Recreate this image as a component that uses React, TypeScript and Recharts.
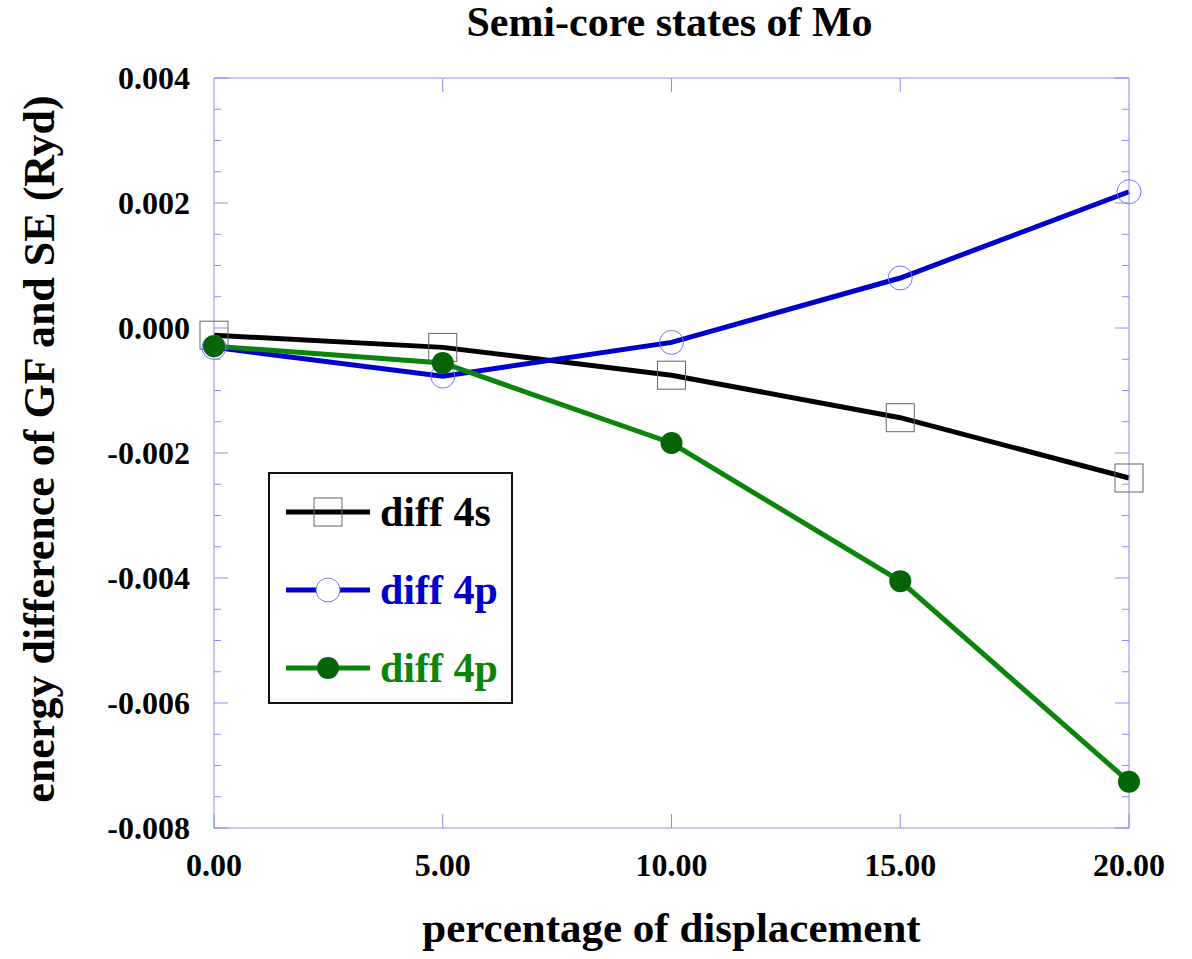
import React from 'react';
import { LineChart, Line, XAxis, YAxis, Legend } from 'recharts';

const displacement = [0, 5, 10, 15, 20];
const diff4s = [-0.000115, -0.00031, -0.000755, -0.001435, -0.0024];
const diff4pBlue = [-0.00031, -0.00077, -0.00023, 0.0008, 0.00218];
const diff4pGreen = [-0.00029, -0.00056, -0.00184, -0.00405, -0.00726];

const xTicks = [0, 5, 10, 15, 20];
const yTicks = [
  -0.008, -0.0075, -0.007, -0.0065, -0.006, -0.0055, -0.005, -0.0045, -0.004,
  -0.0035, -0.003, -0.0025, -0.002, -0.0015, -0.001, -0.0005, 0, 0.0005, 0.001,
  0.0015, 0.002, 0.0025, 0.003, 0.0035, 0.004,
];
const yMajor = [-0.008, -0.006, -0.004, -0.002, 0, 0.002, 0.004];

const data = displacement.map((x, i) => ({
  x,
  s4: diff4s[i],
  p4: diff4pBlue[i],
  p4g: diff4pGreen[i],
}));

const FONT = '"Liberation Serif", "Times New Roman", serif';
const AXIS = '#8c8cf5';

const isMajor = (v: number) => yMajor.some((m) => Math.abs(m - v) < 1e-9);

const LeftTick = (props: any) => {
  const { x, y, payload } = props;
  const major = isMajor(payload.value);
  return (
    <g>
      <line x1={x} x2={x + (major ? 14 : 7)} y1={y} y2={y} stroke={AXIS} strokeWidth={1} />
      {major && (
        <text x={x - 24} y={y + 11} textAnchor="end" fontFamily={FONT} fontWeight="bold" fontSize={32} fill="#000">
          {payload.value.toFixed(3)}
        </text>
      )}
    </g>
  );
};

const RightTick = (props: any) => {
  const { x, y, payload } = props;
  const major = isMajor(payload.value);
  return <line x1={x} x2={x - (major ? 14 : 7)} y1={y} y2={y} stroke={AXIS} strokeWidth={1} />;
};

const BottomTick = (props: any) => {
  const { x, y, payload } = props;
  return (
    <g>
      <line x1={x} x2={x} y1={y} y2={y - 14} stroke={AXIS} strokeWidth={1} />
      <text x={x} y={y + 48} textAnchor="middle" fontFamily={FONT} fontWeight="bold" fontSize={32} fill="#000">
        {payload.value.toFixed(2)}
      </text>
    </g>
  );
};

// ticks along the top frame only, no labels
const TopTick = (props: any) => {
  const { x, y, payload } = props;
  if (payload.value <= 0 || payload.value >= 20) return <g />;
  return <line x1={x} x2={x} y1={y} y2={y + 14} stroke={AXIS} strokeWidth={1} />;
};

const SquareDot = (props: any) => {
  const { cx, cy, index } = props;
  return <rect key={`sq-${index}`} x={cx - 14} y={cy - 14} width={28} height={28} fill="none" stroke="#666" strokeWidth={1} />;
};

const OpenCircle = (props: any) => {
  const { cx, cy, index } = props;
  return <circle key={`oc-${index}`} cx={cx} cy={cy} r={12} fill="none" stroke="#7474ff" strokeWidth={1} />;
};

const legendItems = [
  { label: 'diff 4s', color: '#000000', marker: 'square' },
  { label: 'diff 4p', color: '#0000cc', marker: 'open' },
  { label: 'diff 4p', color: '#0a850a', marker: 'filled' },
];

const LegendBox = () => (
  <div style={{ width: 241, height: 228, border: '2px solid #111', background: '#fff', position: 'relative' }}>
    {legendItems.map((it, i) => (
      <div key={i} style={{ position: 'absolute', left: 0, top: 38 + i * 78 - 30, height: 60, display: 'flex', alignItems: 'center' }}>
        <svg width={110} height={60} style={{ display: 'block' }}>
          <line x1={16} x2={100} y1={30} y2={30} stroke={it.color} strokeWidth={5} />
          {it.marker === 'square' && <rect x={44} y={16} width={28} height={28} fill="none" stroke="#666" strokeWidth={1} />}
          {it.marker === 'open' && <circle cx={58} cy={30} r={12} fill="#fff" stroke="#7474ff" strokeWidth={1} />}
          {it.marker === 'filled' && <circle cx={58} cy={30} r={11} fill="#056405" />}
        </svg>
        <span style={{ fontFamily: FONT, fontWeight: 'bold', fontSize: 42, color: it.color, lineHeight: '60px' }}>
          {it.label}
        </span>
      </div>
    ))}
  </div>
);

const TitleLabel = (props: any) => {
  const vb = props.viewBox;
  return (
    <text x={vb.x + vb.width / 2 - 2} y={36} textAnchor="middle" fontFamily={FONT} fontWeight="bold" fontSize={42} fill="#000">
      Semi-core states of Mo
    </text>
  );
};

const XLabel = (props: any) => {
  const vb = props.viewBox;
  return (
    <text x={vb.x + vb.width / 2} y={942} textAnchor="middle" fontFamily={FONT} fontWeight="bold" fontSize={43} fill="#000">
      percentage of displacement
    </text>
  );
};

const YLabel = (props: any) => {
  const vb = props.viewBox;
  const cy = vb.y + vb.height / 2 - 4;
  return (
    <text
      x={54}
      y={cy}
      transform={`rotate(-90, 54, ${cy})`}
      textAnchor="middle"
      fontFamily={FONT}
      fontWeight="bold"
      fontSize={44}
      fill="#000"
    >
      energy difference of GF and SE (Ryd)
    </text>
  );
};

export default function App() {
  return (
    <div style={{ position: 'absolute', left: 0, top: 0, width: 1192, height: 959, background: '#fff' }}>
      <LineChart width={1192} height={959} data={data} margin={{ top: 58, right: 53, bottom: 71, left: 114 }}>
        <XAxis
          xAxisId="bottom"
          dataKey="x"
          type="number"
          domain={[0, 20]}
          ticks={xTicks}
          interval={0}
          height={60}
          stroke={AXIS}
          tickSize={0}
          tickMargin={0}
          tickLine={false}
          tick={BottomTick}
          label={XLabel}
        />
        <XAxis
          xAxisId="top"
          orientation="top"
          dataKey="x"
          type="number"
          domain={[0, 20]}
          ticks={xTicks}
          interval={0}
          height={20}
          stroke={AXIS}
          tickSize={0}
          tickMargin={0}
          tickLine={false}
          tick={TopTick}
          label={TitleLabel}
        />
        <YAxis
          yAxisId="left"
          type="number"
          domain={[-0.008, 0.004]}
          ticks={yTicks}
          interval={0}
          width={100}
          stroke={AXIS}
          tickSize={0}
          tickMargin={0}
          tickLine={false}
          tick={LeftTick}
          label={YLabel}
        />
        <YAxis
          yAxisId="right"
          orientation="right"
          type="number"
          domain={[-0.008, 0.004]}
          ticks={yTicks}
          allowDataOverflow
          interval={0}
          width={10}
          stroke={AXIS}
          tickSize={0}
          tickMargin={0}
          tickLine={false}
          tick={RightTick}
        />
        <Legend
          layout="vertical"
          align="center"
          verticalAlign="middle"
          content={LegendBox}
          wrapperStyle={{ left: 268, top: 472, width: 245, height: 232 }}
        />
        <Line
          xAxisId="bottom"
          yAxisId="left"
          dataKey="s4"
          stroke="#000000"
          strokeWidth={5}
          dot={SquareDot}
          isAnimationActive={false}
        />
        <Line
          xAxisId="bottom"
          yAxisId="left"
          dataKey="p4"
          stroke="#0000cc"
          strokeWidth={5}
          dot={OpenCircle}
          isAnimationActive={false}
        />
        <Line
          xAxisId="bottom"
          yAxisId="left"
          dataKey="p4g"
          stroke="#0a850a"
          strokeWidth={5}
          dot={{ r: 11, fill: '#056405', stroke: 'none' }}
          isAnimationActive={false}
        />
      </LineChart>
    </div>
  );
}
